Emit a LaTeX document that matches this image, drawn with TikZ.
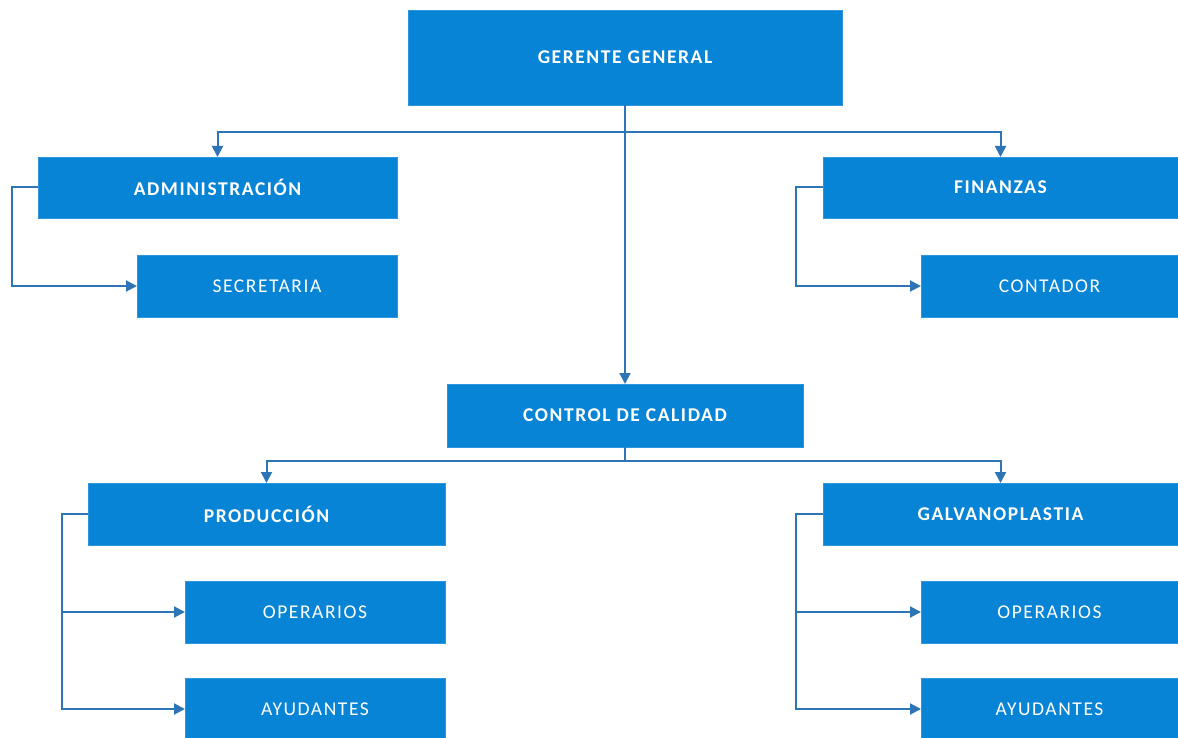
\documentclass[tikz,border=0pt]{standalone}
\usepackage{fontspec}
\setmainfont[LetterSpace=8]{Carlito}
\usetikzlibrary{arrows.meta}
\definecolor{boxblue}{RGB}{8,132,214}
\definecolor{lineblue}{RGB}{46,117,182}
\tikzset{
  box/.style={rectangle, fill=boxblue, draw=boxblue!85!white, line width=0.6pt, inner sep=0pt, outer sep=0pt, text=white, font=\fontsize{19.5}{22}\selectfont},
  head/.style={box, font=\fontsize{19.5}{22}\selectfont\bfseries},
  conn/.style={draw=lineblue, line width=2pt, -{Triangle[length=11pt,width=11pt]}},
  plain/.style={draw=lineblue, line width=2pt}
}
\begin{document}
\begin{tikzpicture}[x=1pt,y=-1pt]
\useasboundingbox (0,0) rectangle (1178,738);
\fill[white] (0,0) rectangle (1178,738);
% boxes
\node[head, minimum width=434pt, minimum height=95pt] (gg) at (625,57.5) {GERENTE GENERAL};
\node[head, minimum width=359pt, minimum height=61pt] (adm) at (217.5,187.5) {ADMINISTRACIÓN};
\node[box, minimum width=260pt, minimum height=62pt] (sec) at (267,286) {SECRETARIA};
\node[head, minimum width=355pt, minimum height=61pt] (fin) at (1000.5,187.5) {FINANZAS};
\node[box, minimum width=257pt, minimum height=62pt] (con) at (1049.5,286) {CONTADOR};
\node[head, minimum width=356pt, minimum height=63pt] (cc) at (625,415.5) {CONTROL DE CALIDAD};
\node[head, minimum width=357pt, minimum height=62pt] (prod) at (266.5,514) {PRODUCCIÓN};
\node[box, minimum width=260pt, minimum height=62pt] (opL) at (315,612) {OPERARIOS};
\node[box, minimum width=260pt, minimum height=62pt] (ayL) at (315,709) {AYUDANTES};
\node[head, minimum width=355pt, minimum height=62pt] (gal) at (1000.5,514) {GALVANOPLASTIA};
\node[box, minimum width=257pt, minimum height=62pt] (opR) at (1049.5,612) {OPERARIOS};
\node[box, minimum width=257pt, minimum height=62pt] (ayR) at (1049.5,709) {AYUDANTES};
% junctions
\coordinate (j1) at (625,132);
\coordinate (j2) at (625,461);
% connectors
\draw[conn] (gg.south) -- (cc.north);
\draw[conn] (j1) -| (adm.north);
\draw[conn] (j1) -| (fin.north);
\draw[conn] (adm.west) -- ++(-26,0) |- (sec.west);
\draw[conn] (fin.west) -- ++(-27,0) |- (con.west);
\draw[plain] (cc.south) -- (j2);
\draw[conn] (j2) -| (prod.north);
\draw[conn] (j2) -| (gal.north);
\draw[conn] (prod.west) -- ++(-26,0) |- (opL.west);
\draw[conn] (prod.west) -- ++(-26,0) |- (ayL.west);
\draw[conn] (gal.west) -- ++(-27,0) |- (opR.west);
\draw[conn] (gal.west) -- ++(-27,0) |- (ayR.west);
\end{tikzpicture}
\end{document}
